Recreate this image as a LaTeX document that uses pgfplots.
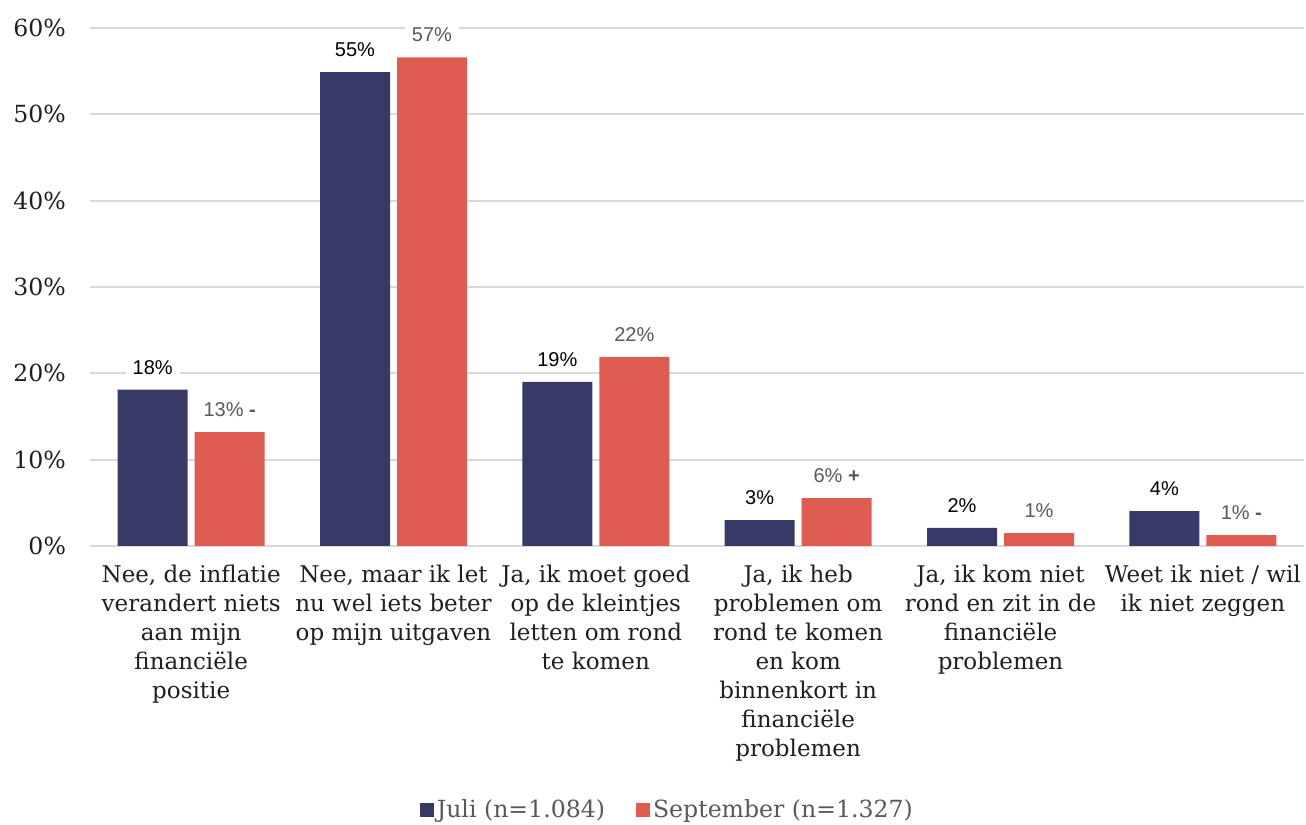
\documentclass[border=0pt]{standalone}
\usepackage{fontspec}
\setmainfont{DejaVu Serif}
\newfontfamily\lab{Liberation Sans}
\usepackage{pgfplots}
\pgfplotsset{compat=1.18}
\definecolor{juli}{HTML}{383A66}
\definecolor{sept}{HTML}{DE5C52}
\definecolor{gridc}{HTML}{D9D9D9}
\definecolor{txt}{HTML}{1F1F1F}
\definecolor{leg}{HTML}{595959}

\begin{document}
\begin{tikzpicture}
\begin{axis}[
    scale only axis,
    width=607pt, height=259pt,
    ybar=3.5pt, bar width=35pt,
    xmin=-0.5, xmax=5.5, ymin=0, ymax=60,
    clip=false,
    axis line style={draw=none},
    major tick length=0pt,
    ymajorgrids, grid style={gridc, line width=1pt},
    ytick={0,10,...,60},
    yticklabel={\pgfmathprintnumber{\tick}\%},
    /pgf/number format/assume math mode=true,
    yticklabel style={font=\fontsize{11.8}{14}\selectfont, text=txt, xshift=-8.5pt},
    xtick={0,...,5},
    xticklabels={
        {Nee, de inflatie\\verandert niets\\aan mijn\\financiële\\positie},
        {Nee, maar ik let\\nu wel iets beter\\op mijn uitgaven},
        {Ja, ik moet goed\\op de kleintjes\\letten om rond\\te komen},
        {Ja, ik heb\\problemen om\\rond te komen\\en kom\\binnenkort in\\financiële\\problemen},
        {Ja, ik kom niet\\rond en zit in de\\financiële\\problemen},
        {Weet ik niet / wil\\ik niet zeggen}},
    xticklabel style={align=center, font=\fontsize{11.5}{14.5}\selectfont, text=txt, yshift=-6pt},
    point meta=explicit symbolic,
    nodes near coords,
    every node near coord/.append style={font=\lab\fontsize{10}{12}\selectfont,
        fill=white, inner xsep=3.5pt, inner ysep=1pt, anchor=south, yshift=6.5pt},
    legend style={draw=none, at={(0.476,0)}, anchor=center, yshift=-132pt,
        font=\fontsize{11.8}{14}\selectfont, text=leg, legend columns=2,
        nodes={inner sep=1.5pt},
        /tikz/every even column/.append style={column sep=14pt}},
    legend image code/.code={\fill[#1] (0pt,-3.5pt) rectangle (7pt,3.5pt);},
]
\addplot[fill=juli, draw=none,
    every node near coord/.append style={text=black}] coordinates {
    (0,18.1)[18\%]
    (1,54.9)[55\%]
    (2,19.0)[19\%]
    (3,3.0)[3\%]
    (4,2.1)[2\%]
    (5,4.05)[4\%]
};
\addlegendentry{Juli (n=1.084)}
\addplot[fill=sept, draw=none,
    every node near coord/.append style={text=leg}] coordinates {
    (0,13.2)[{13\% \textbf{-}}]
    (1,56.6)[57\%]
    (2,21.9)[22\%]
    (3,5.55)[{6\% \textbf{+}}]
    (4,1.5)[1\%]
    (5,1.25)[{1\% \textbf{-}}]
};
\addlegendentry{September (n=1.327)}
\coordinate (bb1) at (rel axis cs:0,0);
\coordinate (bb2) at (rel axis cs:1,1);
\end{axis}
\pgfresetboundingbox
\path[use as bounding box] ([shift={(-45pt,-139.5pt)}]bb1) rectangle ([shift={(1pt,14pt)}]bb2);
\end{tikzpicture}
\end{document}
